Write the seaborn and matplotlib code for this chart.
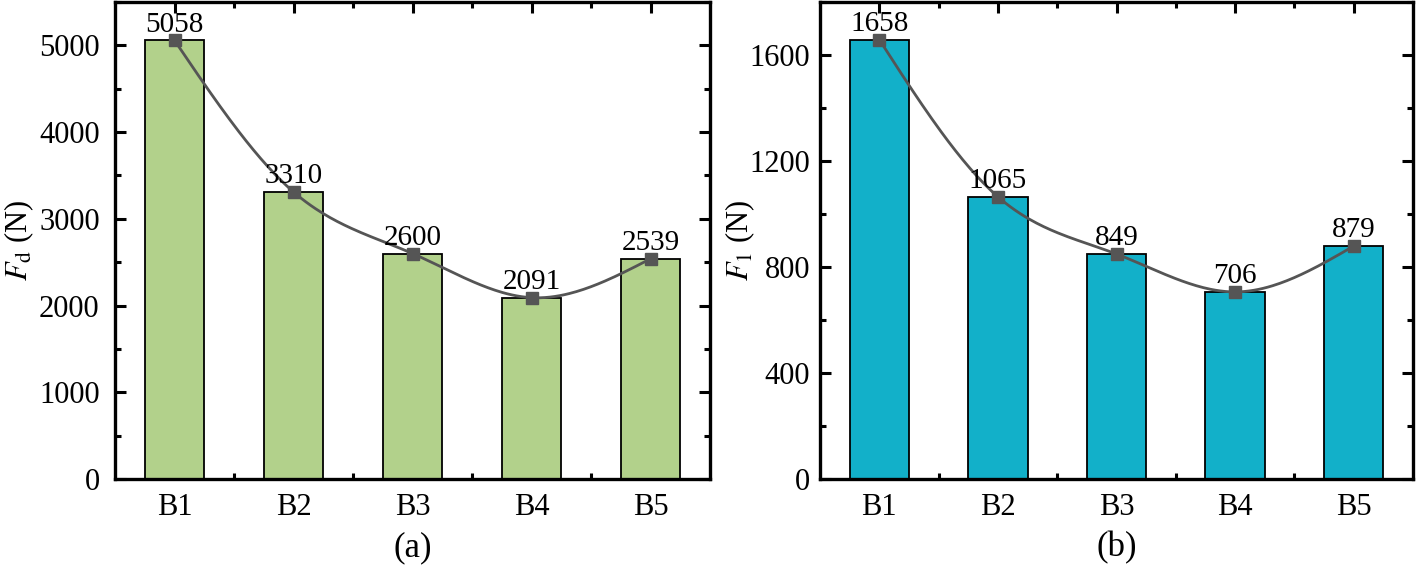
import numpy as np
import pandas as pd
import matplotlib
matplotlib.use("Agg")
import matplotlib.pyplot as plt
from matplotlib.ticker import MultipleLocator, FixedLocator
import seaborn as sns

categories = ["B1", "B2", "B3", "B4", "B5"]
fd_values = [5058, 3310, 2600, 2091, 2539]
f1_values = [1658, 1065, 849, 706, 879]
panel_labels = ["(a)", "(b)"]
ylabels = [r"$\mathit{F}_{\mathrm{d}}$ (N)", r"$\mathit{F}_{1}$ (N)"]

sns.set_theme(style="ticks")
plt.rcParams["font.family"] = ["Liberation Serif", "DejaVu Serif"]
plt.rcParams["mathtext.fontset"] = "stix"
for k in ["text.color", "axes.labelcolor", "xtick.color", "ytick.color", "axes.edgecolor"]:
    plt.rcParams[k] = "black"


def natural_spline(x, y, n=200):
    x = np.asarray(x, float)
    y = np.asarray(y, float)
    m = len(x)
    h = np.diff(x)
    A = np.zeros((m, m))
    b = np.zeros(m)
    A[0, 0] = 1
    A[-1, -1] = 1
    for i in range(1, m - 1):
        A[i, i - 1] = h[i - 1]
        A[i, i] = 2 * (h[i - 1] + h[i])
        A[i, i + 1] = h[i]
        b[i] = 6 * ((y[i + 1] - y[i]) / h[i] - (y[i] - y[i - 1]) / h[i - 1])
    M = np.linalg.solve(A, b)
    xs = np.linspace(x[0], x[-1], n)
    ys = np.empty_like(xs)
    for k, xv in enumerate(xs):
        i = min(np.searchsorted(x, xv, side="right") - 1, m - 2)
        t1 = x[i + 1] - xv
        t0 = xv - x[i]
        ys[k] = (M[i] * t1**3 + M[i + 1] * t0**3) / (6 * h[i]) \
            + (y[i] / h[i] - M[i] * h[i] / 6) * t1 \
            + (y[i + 1] / h[i] - M[i + 1] * h[i] / 6) * t0
    return xs, ys


fig = plt.figure(figsize=(14.18, 5.65), dpi=100)
ax1 = fig.add_axes([115 / 1418, 1 - 479 / 565, 595 / 1418, 477 / 565])
ax2 = fig.add_axes([820 / 1418, 1 - 479 / 565, 593 / 1418, 477 / 565])

configs = [
    (ax1, fd_values, "#b2d18b", 5500, 1000, 500, 11, -0.132),
    (ax2, f1_values, "#12b0c9", 1800, 400, 200, 7, -0.106),
]

for idx, (ax, vals, col, ymax, major, minor, ypad, labx) in enumerate(configs):
    df = pd.DataFrame({"cat": categories, "val": vals})
    sns.barplot(data=df, x="cat", y="val", color=col, saturation=1, width=0.5,
                edgecolor="black", linewidth=1.3, ax=ax)
    xpos = np.arange(len(categories))
    xs, ys = natural_spline(xpos, vals)
    ax.plot(xs, ys, color="#555555", lw=2.0, zorder=4)
    ax.plot(xpos, vals, "s", color="#555555", ms=8, zorder=5)
    for xp, v in zip(xpos, vals):
        ax.annotate(str(v), (xp, v), xytext=(0, 2), textcoords="offset points",
                    ha="center", va="bottom", fontsize=21, zorder=6)
    ax.set_xlim(-0.5, len(categories) - 0.5)
    ax.set_ylim(0, ymax)
    ax.yaxis.set_major_locator(MultipleLocator(major))
    ax.yaxis.set_minor_locator(MultipleLocator(minor))
    ax.xaxis.set_minor_locator(FixedLocator(xpos[:-1] + 0.5))
    ax.tick_params(which="both", direction="in", top=True, right=True, width=2.2)
    ax.tick_params(which="major", length=8, labelsize=22)
    ax.tick_params(which="minor", length=4.5)
    ax.tick_params(axis="x", which="major", pad=10)
    ax.tick_params(axis="y", which="major", pad=ypad)
    ax.set_xlabel("")
    ax.set_ylabel(ylabels[idx], fontsize=22)
    ax.yaxis.set_label_coords(labx, 0.5)
    for s in ax.spines.values():
        s.set_visible(True)
        s.set_linewidth(2.4)
    ax.set_yticklabels([f"{int(t)}" for t in ax.get_yticks()])
    bbox = ax.get_position()
    fig.text((bbox.x0 + bbox.x1) / 2, 0.03, panel_labels[idx], ha="center",
             va="center", fontsize=25)

fig.savefig("out.png", dpi=100)
